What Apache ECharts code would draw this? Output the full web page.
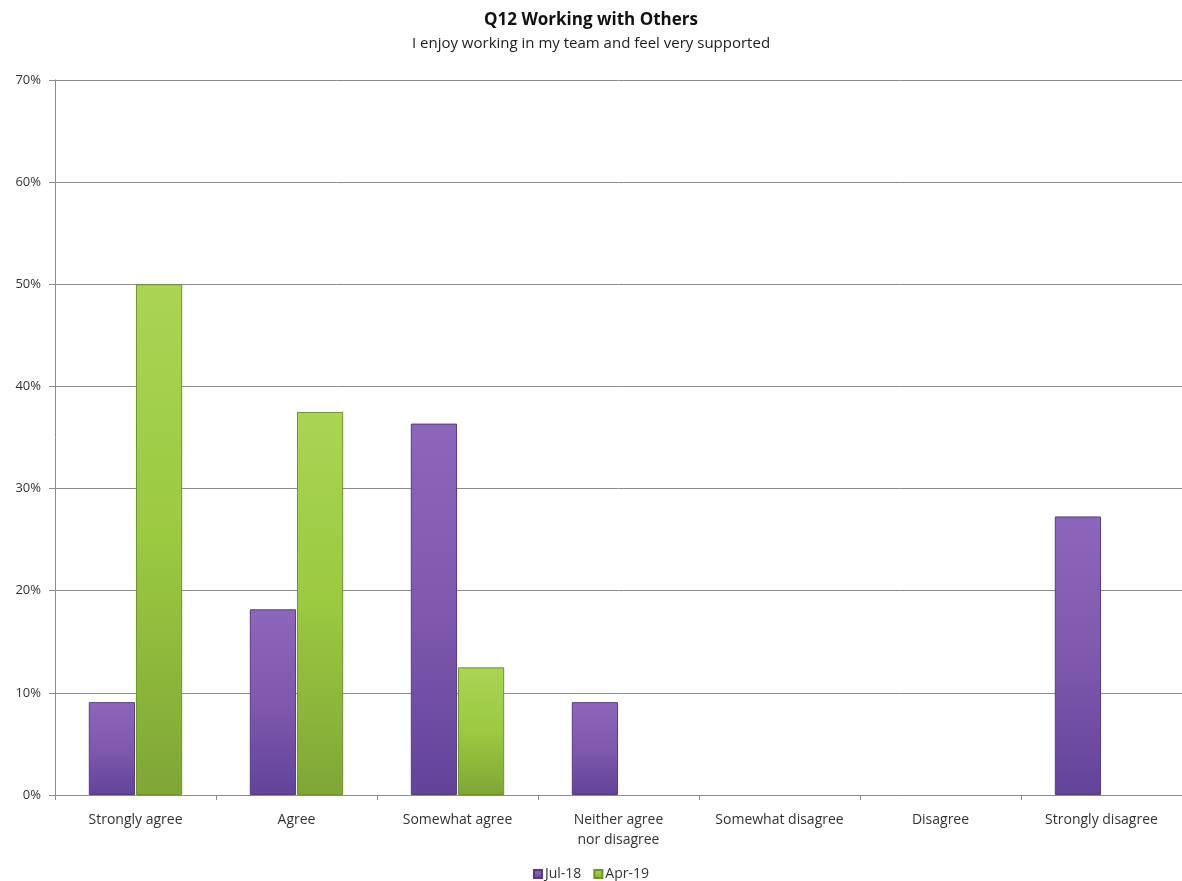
<!DOCTYPE html>
<html>
<head>
<meta charset="utf-8">
<title>Q12 Working with Others</title>
<script src="https://cdn.jsdelivr.net/npm/echarts@6/dist/echarts.min.js"></script>
<style>
  html, body { margin: 0; padding: 0; background: #fff; }
  #chart { width: 1182px; height: 881px; }
</style>
</head>
<body>
<div id="chart"></div>
<script>
// Survey responses, share of respondents (%)
const categories = [
  'Strongly agree', 'Agree', 'Somewhat agree', 'Neither agree\nnor disagree',
  'Somewhat disagree', 'Disagree', 'Strongly disagree'
];
const seriesNames = ['Jul-18', 'Apr-19'];
const jul18 = [9.09, 18.18, 36.36, 9.09, 0, 0, 27.27];
const apr19 = [50, 37.5, 12.5, 0, 0, 0, 0];
const yTicks = [0, 10, 20, 30, 40, 50, 60, 70];

const font = '"Open Sans", "Noto Sans", sans-serif';

function barFill(top, mid, bottom) {
  return new echarts.graphic.LinearGradient(0, 0, 0, 1, [
    { offset: 0, color: top },
    { offset: 0.5, color: mid },
    { offset: 1, color: bottom }
  ]);
}

// empty responses draw no bar at all
const asBars = values => values.map(v => (v === 0 ? '-' : v));

const chart = echarts.init(document.getElementById('chart'), null, { renderer: 'canvas' });

chart.setOption({
  backgroundColor: '#ffffff',
  animation: false,
  title: {
    text: 'Q12 Working with Others',
    subtext: 'I enjoy working in my team and feel very supported',
    left: 'center',
    top: 7,
    itemGap: 7,
    textStyle: { fontFamily: font, fontSize: 17, fontWeight: 'bold', color: '#111' },
    subtextStyle: { fontFamily: font, fontSize: 15, color: '#222' }
  },
  legend: {
    top: 862,
    left: 'center',
    itemWidth: 8,
    itemHeight: 8,
    itemGap: 12,
    icon: 'rect',
    data: seriesNames,
    textStyle: { fontFamily: font, fontSize: 14, color: '#333', padding: [0, 0, 0, -2] }
  },
  grid: {
    left: 55,
    top: 80,
    width: 1133,
    height: 715,
    containLabel: false
  },
  xAxis: {
    type: 'category',
    data: categories,
    axisLine: { show: true, lineStyle: { color: '#8c8c8c', width: 1 } },
    axisTick: { show: true, length: 5, alignWithLabel: false, lineStyle: { color: '#8c8c8c' } },
    axisLabel: {
      interval: 0,
      margin: 15,
      fontFamily: font,
      fontSize: 14,
      lineHeight: 20,
      color: '#333'
    }
  },
  yAxis: {
    type: 'value',
    min: yTicks[0],
    max: yTicks[yTicks.length - 1],
    interval: 10,
    axisLine: { show: true, lineStyle: { color: '#8c8c8c', width: 1 } },
    axisTick: { show: true, length: 6, lineStyle: { color: '#8c8c8c' } },
    splitLine: { show: true, lineStyle: { color: '#8c8c8c', width: 1 } },
    axisLabel: {
      margin: 14,
      fontFamily: font,
      fontSize: 13,
      color: '#333',
      formatter: v => v + '%'
    }
  },
  series: [
    {
      name: seriesNames[0],
      type: 'bar',
      data: asBars(jul18),
      barGap: '2%',
      barCategoryGap: '42%',
      itemStyle: {
        color: barFill('#8c66ba', '#7f59ae', '#62439a'),
        borderColor: '#553b84',
        borderWidth: 1
      }
    },
    {
      name: seriesNames[1],
      type: 'bar',
      data: asBars(apr19),
      barGap: '2%',
      barCategoryGap: '42%',
      itemStyle: {
        color: barFill('#a9d553', '#9bc940', '#7fa636'),
        borderColor: '#6f922c',
        borderWidth: 1
      }
    }
  ]
});
</script>
</body>
</html>
